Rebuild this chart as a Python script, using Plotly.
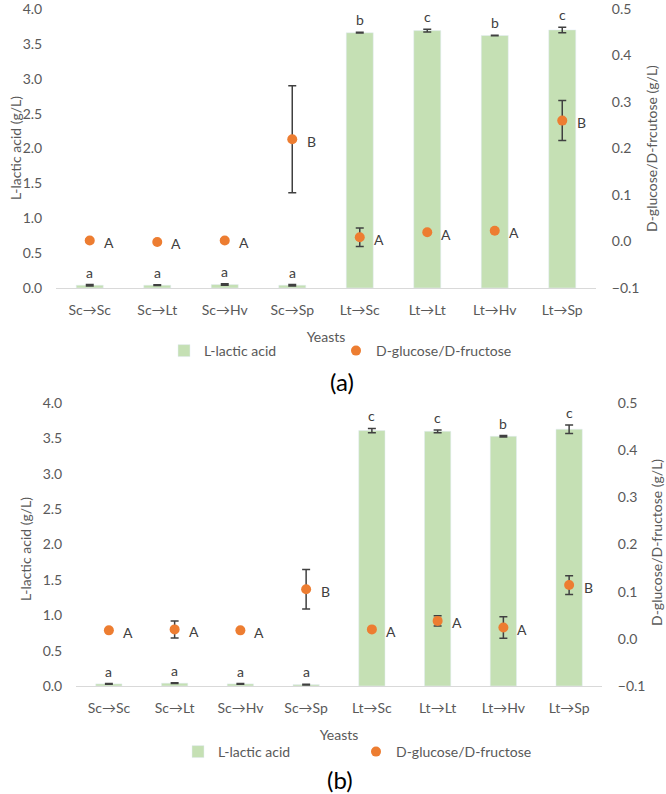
import plotly.graph_objects as go

yeasts = ['Sc→Sc', 'Sc→Lt', 'Sc→Hv', 'Sc→Sp', 'Lt→Sc', 'Lt→Lt', 'Lt→Hv', 'Lt→Sp']

# (a)
lactic_a = [0.04, 0.04, 0.05, 0.04, 3.66, 3.69, 3.62, 3.70]
lactic_a_err = [0.01, 0.005, 0.01, 0.01, 0.005, 0.02, 0.005, 0.04]
lactic_a_lbl = ['a', 'a', 'a', 'a', 'b', 'c', 'b', 'c']
sugar_a = [0.002, -0.001, 0.002, 0.22, 0.009, 0.02, 0.023, 0.26]
sugar_a_err = [0.004, 0.0, 0.004, 0.115, 0.02, 0.0, 0.003, 0.043]
sugar_a_lbl = ['A', 'A', 'A', 'B', 'A', 'A', 'A', 'B']

# (b)
lactic_b = [0.03, 0.04, 0.03, 0.02, 3.61, 3.60, 3.53, 3.63]
lactic_b_err = [0.005, 0.005, 0.005, 0.005, 0.03, 0.02, 0.01, 0.06]
lactic_b_lbl = ['a', 'a', 'a', 'a', 'c', 'c', 'b', 'c']
sugar_b = [0.018, 0.02, 0.018, 0.105, 0.02, 0.038, 0.024, 0.114]
sugar_b_err = [0.0, 0.018, 0.0, 0.042, 0.0, 0.011, 0.023, 0.02]
sugar_b_lbl = ['A', 'A', 'A', 'B', 'A', 'A', 'A', 'B']

green = '#c5e0b4'
orange = '#ed7d31'
errc = '#404040'
grey = '#595959'
fnt = 'Lato'

W, H = 666, 794
def px(x):
    return x / W
def py(y):
    return 1 - y / H

fig = go.Figure()

def add_panel(lac, lac_err, sug, sug_err, xa, ya, ya2, leg1, leg2):
    fig.add_trace(go.Bar(x=yeasts, y=lac, name='L-lactic acid', marker_color=green,
                         width=0.4, xaxis=xa, yaxis=ya, legend=leg1,
                         error_y=dict(type='data', array=lac_err, color=errc, thickness=1.5, width=4)))
    fig.add_trace(go.Scatter(x=yeasts, y=sug, name='D-glucose/D-fructose', mode='markers',
                             marker=dict(color=orange, size=10), xaxis=xa, yaxis=ya2, legend=leg2,
                             error_y=dict(type='data', array=sug_err, color=errc, thickness=1.5, width=4)))

add_panel(lactic_a, lactic_a_err, sugar_a, sugar_a_err, 'x', 'y', 'y2', 'legend', 'legend2')
add_panel(lactic_b, lactic_b_err, sugar_b, sugar_b_err, 'x2', 'y3', 'y4', 'legend3', 'legend4')

tf = dict(family=fnt, size=14, color=grey)
lf = dict(family=fnt, size=14, color='#404040')

ann = []
def letters(lac, lac_err, lac_lbl, sug, sug_lbl, xr, yr, yr2):
    for i, c in enumerate(yeasts):
        ann.append(dict(x=c, y=lac[i] + lac_err[i], xref=xr, yref=yr, text=lac_lbl[i],
                        showarrow=False, yanchor='bottom', yshift=2, font=lf))
        ann.append(dict(x=c, y=sug[i], xref=xr, yref=yr2, text=sug_lbl[i],
                        showarrow=False, xanchor='center', xshift=19, yshift=-2, font=lf))

letters(lactic_a, lactic_a_err, lactic_a_lbl, sugar_a, sugar_a_lbl, 'x', 'y', 'y2')
letters(lactic_b, lactic_b_err, lactic_b_lbl, sugar_b, sugar_b_lbl, 'x2', 'y3', 'y4')

def vtitle(text, x, y):
    ann.append(dict(x=px(x), y=py(y), xref='paper', yref='paper', text=text, showarrow=False,
                    xanchor='center', yanchor='middle', textangle=-90, font=tf))

vtitle('L-lactic acid (g/L)', 15, 148)
vtitle('D-glucose/D-frcutose (g/L)', 651, 149)
vtitle('L-lactic acid (g/L)', 25, 549)
vtitle('D-glucose/D-fructose (g/L)', 656, 543)

ann.append(dict(x=px(342), y=py(381), xref='paper', yref='paper', text='(a)', showarrow=False,
                xanchor='center', yanchor='middle', font=dict(family=fnt, size=24, color='black')))
ann.append(dict(x=px(340), y=py(779), xref='paper', yref='paper', text='(b)', showarrow=False,
                xanchor='center', yanchor='middle', font=dict(family=fnt, size=24, color='black')))

def xax(x0, x1, anchor):
    return dict(domain=[px(x0), px(x1)], anchor=anchor, showline=True, linecolor='#d9d9d9',
                linewidth=1, ticks='outside', ticklen=9, tickcolor='rgba(0,0,0,0)', tickfont=tf,
                showgrid=False, automargin=False,
                title=dict(text='Yeasts', font=tf, standoff=15))

def yax_left(y0, y1, anchor):
    return dict(domain=[py(y1), py(y0)], anchor=anchor, range=[0, 4], dtick=0.5, tickformat='.1f',
                showgrid=False, zeroline=False, ticks='outside', ticklen=10,
                tickcolor='rgba(0,0,0,0)', tickfont=tf, automargin=False, ticklabeloverflow='allow')

def yax_right(over, anchor):
    return dict(overlaying=over, anchor=anchor, side='right', range=[-0.1, 0.5], dtick=0.1,
                tickformat='.1f', showgrid=False, zeroline=False, ticks='outside', ticklen=12,
                tickcolor='rgba(0,0,0,0)', tickfont=tf, automargin=False, ticklabeloverflow='allow')

def leg(x, y):
    return dict(orientation='h', x=px(x - 26), y=py(y), xanchor='left', yanchor='middle',
                font=tf, bgcolor='rgba(0,0,0,0)')

fig.update_layout(
    width=W, height=H,
    margin=dict(l=0, r=0, t=0, b=0, autoexpand=False),
    paper_bgcolor='white', plot_bgcolor='white',
    font=dict(family=fnt, color=grey),
    xaxis=xax(56, 596, 'y'),
    yaxis=yax_left(9, 288, 'x'),
    yaxis2=yax_right('y', 'x'),
    xaxis2=xax(76, 602, 'y3'),
    yaxis3=yax_left(403, 686, 'x2'),
    yaxis4=yax_right('y3', 'x2'),
    legend=leg(190, 351),
    legend2=leg(362, 351),
    legend3=leg(204, 752),
    legend4=leg(382, 752),
    annotations=ann,
    showlegend=True,
)

# drop the browser's default 8px body margin so the figure sits at the window corner
fig.write_html("out.html", config={'displayModeBar': False},
               post_script="document.body.style.margin='0';")
